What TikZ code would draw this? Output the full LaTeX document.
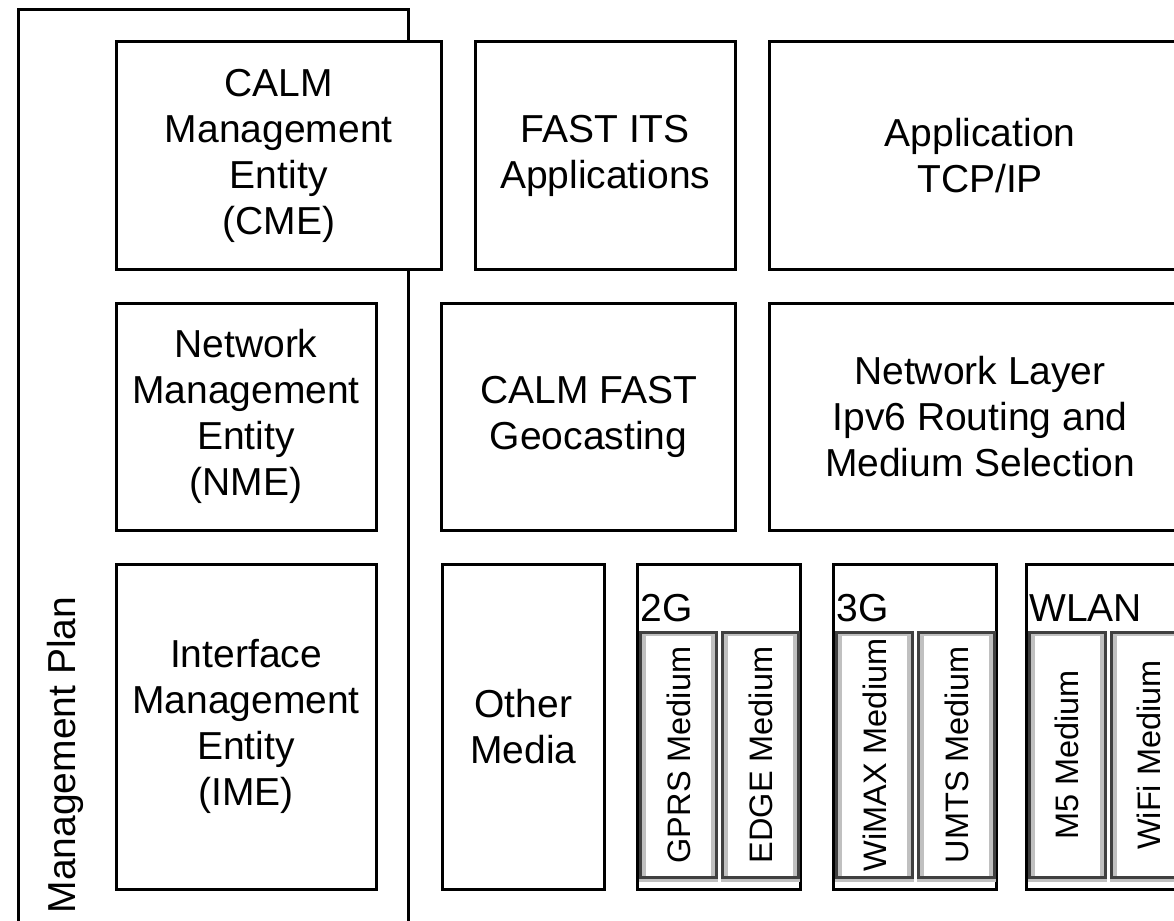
\documentclass[tikz,border=0pt]{standalone}
\usepackage{fontspec}
\setmainfont{Liberation Sans}
\definecolor{dgray}{HTML}{404040}
\definecolor{lgray}{HTML}{C0C0C0}
\newcommand\blkfont{\fontsize{39}{46}\selectfont}
\newcommand\medfont{\fontsize{32.5}{38}\selectfont}
\begin{document}
\begin{tikzpicture}[x=1pt,y=-1pt,
  frame/.style={draw=black,line width=3pt},
  blk/.style={draw=black,line width=3pt,fill=white,inner sep=0pt,outer sep=0pt,
    align=center,font=\blkfont},
  grp/.style={blk,minimum width=163pt,minimum height=325.5pt},
  grplabel/.style={anchor=base west,inner sep=0pt,font=\blkfont},
  medbox/.style={draw=dgray,line width=3pt,fill=white,inner sep=0pt,outer sep=0pt,
    minimum width=76pt,minimum height=245pt,font=\medfont,
    path picture={
      \fill[lgray] ([shift={(1.5pt,1.5pt)}]path picture bounding box.south west)
        rectangle ([shift={(-1.5pt,-1.5pt)}]path picture bounding box.north east);
      \fill[white] ([shift={(5.5pt,1.5pt)}]path picture bounding box.south west)
        rectangle ([shift={(-5.5pt,-3.5pt)}]path picture bounding box.north east);
    }},
]
\useasboundingbox (0,0) rectangle (1174,920);
\fill[white] (0,0) rectangle (1174,920);
\clip (0,0) rectangle (1174,920);

% management plane frame, open at the bottom
\draw[frame] (18,9.5) rectangle (408.5,940);
\node[rotate=90,anchor=base,inner sep=0pt,font=\blkfont] (mplan) at (75,755) {Management Plan};

% top row
\node[blk,minimum width=324.5pt,minimum height=227pt] (cme) at (278.75,155.5)
  {CALM\\Management\\Entity\\(CME)};
\node[blk,minimum width=260.5pt,minimum height=227pt] (fastits) at (605.25,155.5)
  {FAST ITS\\Applications};
\node[blk,minimum width=421pt,minimum height=227pt] (apptcp) at (980,155.5)
  {Application\\TCP/IP};

% middle row
\node[blk,minimum width=260pt,minimum height=227.5pt] (nme) at (246,416.75)
  {Network\\Management\\Entity\\(NME)};
\node[blk,minimum width=294pt,minimum height=227.5pt] (geocast) at (588.5,416.75)
  {CALM FAST\\Geocasting};
\node[blk,minimum width=421pt,minimum height=227.5pt] (netlayer) at (980,416.75)
  {Network Layer\\Ipv6 Routing and\\Medium Selection};

% bottom row
\node[blk,minimum width=260pt,minimum height=325.5pt] (ime) at (246,726.75)
  {Interface\\Management\\Entity\\(IME)};
\node[blk,minimum width=162.5pt,minimum height=325.5pt] (other) at (523.25,726.75)
  {Other\\Media};
\node[grp] (g2) at (719,726.75) {};
\node[grp] (g3) at (915,726.75) {};
\node[grp] (wlan) at (1107.5,726.75) {};
\node[grplabel] (g2lab) at (640.5,621) {2G};
\node[grplabel] (g3lab) at (836.5,621) {3G};
\node[grplabel] (wlanlab) at (1029,621) {WLAN};

% media inside the groups
\node[medbox] (gprs) at (678.5,755) {\rotatebox{90}{GPRS Medium}};
\node[medbox] (edge) at (760.5,755) {\rotatebox{90}{EDGE Medium}};
\node[medbox] (wimax) at (874.5,755) {\rotatebox{90}{WiMAX Medium}};
\node[medbox] (umts) at (956.5,755) {\rotatebox{90}{UMTS Medium}};
\node[medbox] (mfive) at (1067,755) {\rotatebox{90}{M5 Medium}};
\node[medbox] (wifi) at (1149,755) {\rotatebox{90}{WiFi Medium}};
\foreach \m in {gprs,edge,wimax,umts,mfive,wifi}
  \fill[lgray] ([shift={(-1.5pt,-1.5pt)}]\m.south west)
    rectangle ([shift={(1.5pt,-4.5pt)}]\m.south east);
\end{tikzpicture}
\end{document}
